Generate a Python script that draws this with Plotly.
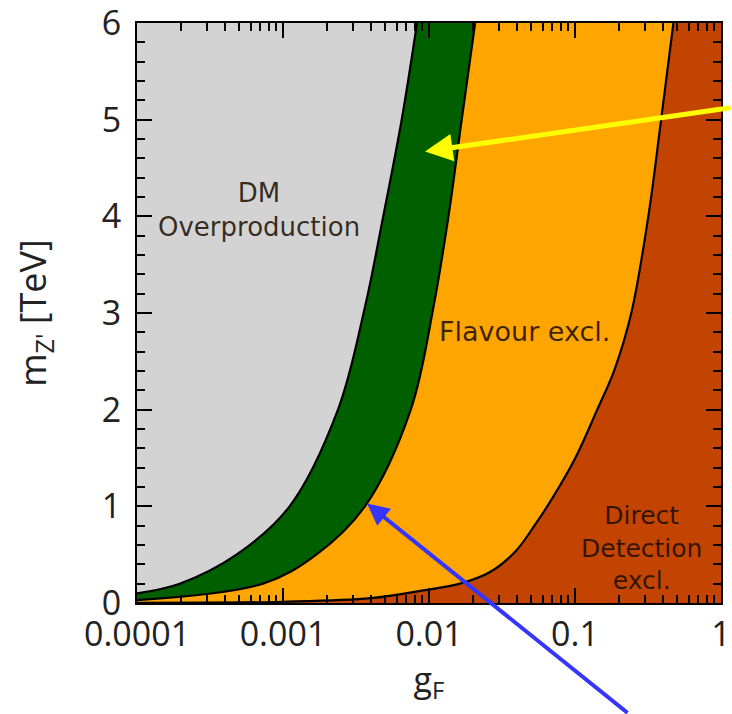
import math
import plotly.graph_objects as go

# ---- data ----
# Boundary DM overproduction / relic band (left edge of green band)
g_relic_lo = [1e-4, 1.96e-4, 4.8e-4, 1.11e-3, 2.38e-3, 3.64e-3, 4.86e-3, 6.5e-3, 8.28e-3]
m_relic_lo = [0.10, 0.2, 0.5, 1.0, 2.0, 3.06, 4.0, 5.0, 6.0]
# Right edge of green band (green / flavour)
g_relic_hi = [1e-4, 7.3e-4, 1.69e-3, 3.64e-3, 7.5e-3, 1.072e-2, 1.359e-2, 1.675e-2, 2.07e-2]
m_relic_hi = [0.03, 0.2, 0.5, 1.0, 2.0, 3.06, 4.0, 5.0, 6.0]
# Flavour / direct detection boundary
g_dd = [1e-4, 1e-3, 4e-3, 0.0091, 0.0163, 0.0262, 0.0389, 0.0533, 0.071, 0.1005,
        0.142, 0.186, 0.243, 0.318, 0.389, 0.472]
m_dd = [0.0013, 0.013, 0.05, 0.13, 0.2, 0.32, 0.53, 0.81, 1.1, 1.5,
        2.0, 2.41, 3.0, 4.0, 5.0, 6.0]

x_tickvals = [1e-4, 1e-3, 1e-2, 1e-1, 1]
x_ticktext = ["0.0001", "0.001", "0.01", "0.1", "1"]

region_labels = ["DM<br>Overproduction", "Flavour excl.", "Direct<br>Detection<br>excl."]
region_g = [6.9e-4, 0.0449, 0.285]
region_m = [4.07, 2.81, 0.57]
region_size = [26, 27, 25]

arrow_tip_g = [0.0094, 0.00376]
arrow_tip_m = [4.67, 1.03]
arrow_colors = ["#FFFF00", "#3535FF"]

GRAY = "#D3D3D3"
GREEN = "#006000"
ORANGE = "#FFA500"
RUST = "#C24400"

fig = go.Figure()

# left edge helper for filling
fig.add_trace(go.Scatter(x=[1e-4, 1e-4], y=[0, 6], mode="lines",
                         line=dict(width=0), showlegend=False, hoverinfo="skip"))
fig.add_trace(go.Scatter(x=g_relic_lo, y=m_relic_lo, mode="lines", fill="tonextx",
                         fillcolor=GRAY, line=dict(width=0, shape="spline", smoothing=1),
                         showlegend=False, hoverinfo="skip"))
fig.add_trace(go.Scatter(x=g_relic_hi, y=m_relic_hi, mode="lines", fill="tonextx",
                         fillcolor=GREEN, line=dict(width=0, shape="spline", smoothing=1),
                         showlegend=False, hoverinfo="skip"))
fig.add_trace(go.Scatter(x=g_dd, y=m_dd, mode="lines", fill="tonextx",
                         fillcolor=ORANGE, line=dict(width=0, shape="spline", smoothing=1),
                         showlegend=False, hoverinfo="skip"))

for gx, my in [(g_relic_lo, m_relic_lo), (g_relic_hi, m_relic_hi), (g_dd, m_dd)]:
    fig.add_trace(go.Scatter(x=gx, y=my, mode="lines",
                             line=dict(color="black", width=2.2, shape="spline", smoothing=1),
                             showlegend=False, hoverinfo="skip"))

# annotations on a log axis take log10 positions
for txt, gx, my, sz in zip(region_labels, region_g, region_m, region_size):
    fig.add_annotation(x=math.log10(gx), y=my, xref="x", yref="y", text=txt, showarrow=False,
                       align="center",
                       font=dict(family="DejaVu Sans", size=sz, color="rgba(25,12,0,0.85)"))

fig.add_annotation(x=math.log10(arrow_tip_g[0]), y=arrow_tip_m[0], xref="x", yref="y", text="",
                   showarrow=True, ax=320, ay=-44, arrowcolor=arrow_colors[0],
                   arrowwidth=5, arrowhead=2, arrowsize=1.1, standoff=0)
fig.add_annotation(x=math.log10(arrow_tip_g[1]), y=arrow_tip_m[1], xref="x", yref="y", text="",
                   showarrow=True, ax=262, ay=226, arrowcolor=arrow_colors[1],
                   arrowwidth=4, arrowhead=2, arrowsize=1.1, standoff=0)

axis_font = dict(family="Open Sans", size=34, color="#222222")
fig.update_xaxes(type="log", range=[-4, 0], tickvals=x_tickvals, ticktext=x_ticktext,
                 automargin=False, ticklabeloverflow="allow",
                 ticks="inside", ticklen=15, tickwidth=2, tickcolor="black",
                 showline=True, linecolor="black", linewidth=2, mirror="allticks",
                 showgrid=False, zeroline=False, tickfont=axis_font, ticklabelstandoff=0,
                 minor=dict(ticks="inside", ticklen=8, tickwidth=1.5, tickcolor="black",
                            dtick="D1", showgrid=False),
                 title=dict(text="g<sub>F</sub>", font=dict(family="Open Sans", size=34, color="#222222"),
                            standoff=2))
fig.update_yaxes(range=[0, 6], tickmode="linear", tick0=0, dtick=1,
                 automargin=False, ticklabeloverflow="allow",
                 ticks="inside", ticklen=15, tickwidth=2, tickcolor="black",
                 showline=True, linecolor="black", linewidth=2, mirror="allticks",
                 showgrid=False, zeroline=False, tickfont=axis_font, ticklabelstandoff=7,
                 minor=dict(ticks="inside", ticklen=8, tickwidth=1.5, tickcolor="black",
                            dtick=0.2, showgrid=False),
                 title=dict(text="m<sub>Z'</sub> [TeV]", font=dict(family="Open Sans", size=36, color="#222222"),
                            standoff=44))

fig.update_layout(width=732, height=714, autosize=False,
                  margin=dict(l=137, r=11, t=23, b=111),
                  plot_bgcolor=RUST, paper_bgcolor="white")

post = "document.body.style.margin='0';document.body.style.overflow='hidden';"
fig.write_html("out.html", config={"displayModeBar": False, "responsive": False}, post_script=post)
